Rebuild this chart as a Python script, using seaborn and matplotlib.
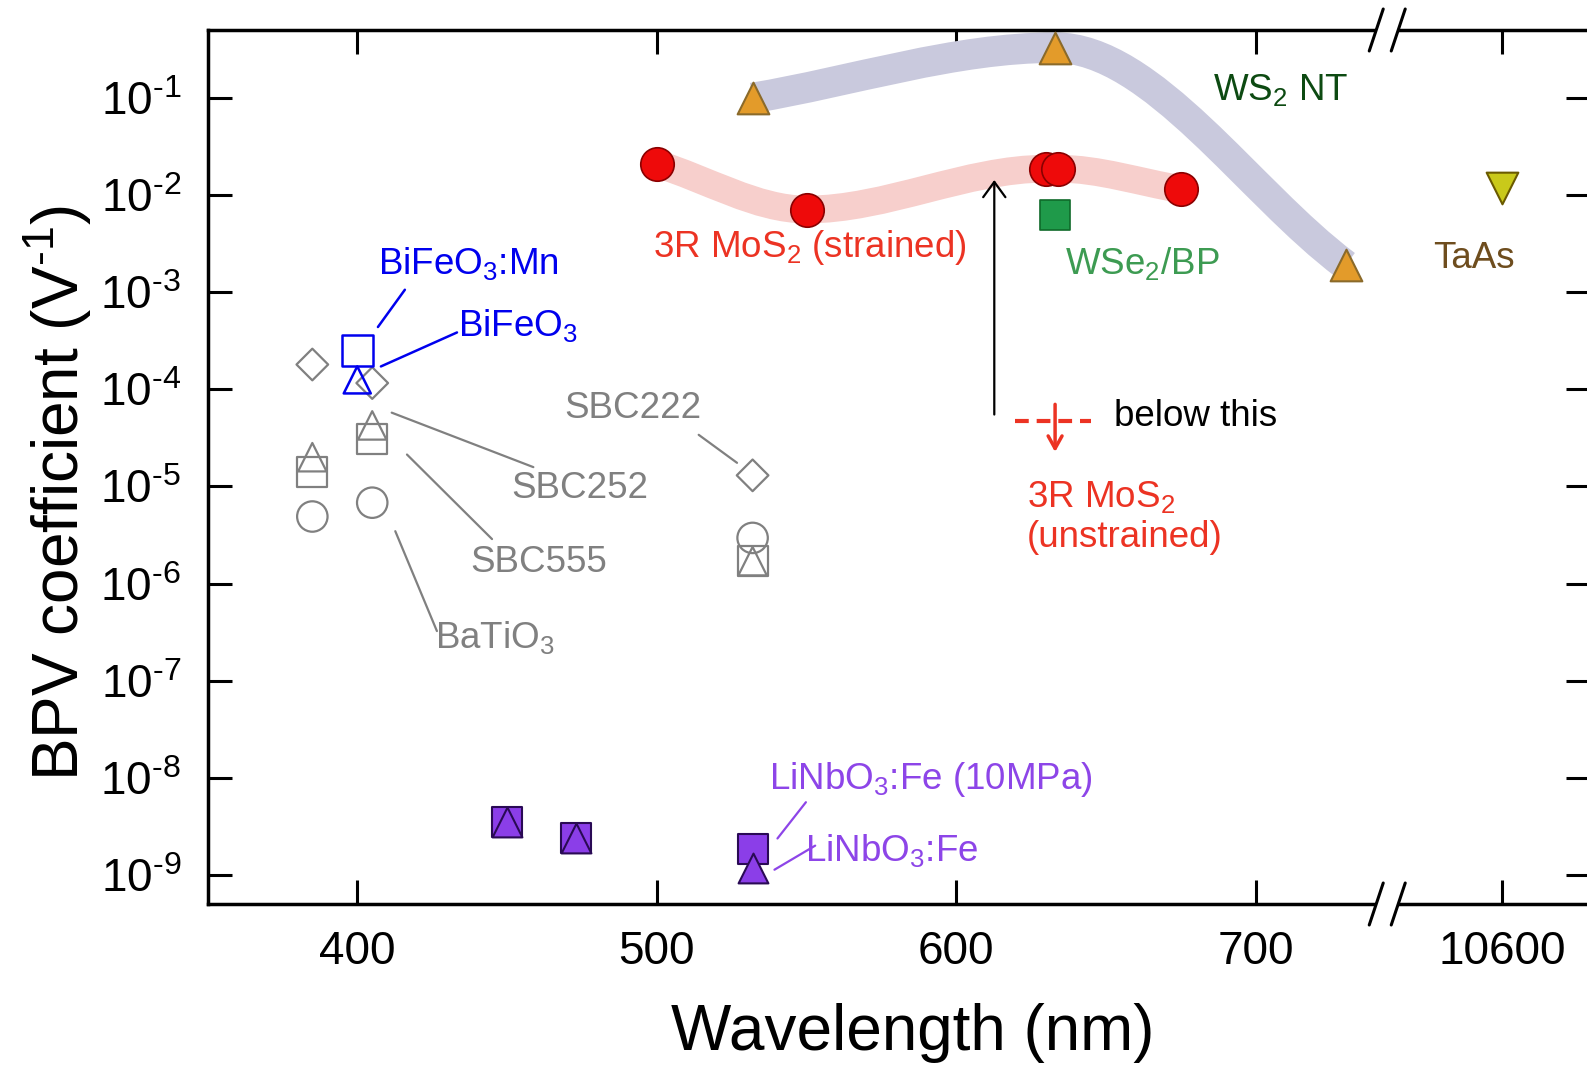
import matplotlib

matplotlib.use("Agg")
import matplotlib.pyplot as plt
import numpy as np
import seaborn as sns
from matplotlib.patches import PathPatch
from matplotlib.path import Path

# ---- data: wavelength (nm), BPV coefficient (1/V) ----
sbc222_wl = [385, 405, 532]
sbc222_bpv = [1.8e-4, 1.16e-4, 1.3e-5]
sbc252_wl = [385, 405, 532]
sbc252_bpv = [2.0e-5, 4.25e-5, 1.7e-6]
sbc555_wl = [385, 405, 532]
sbc555_bpv = [1.4e-5, 3.1e-5, 1.7e-6]
batio3_wl = [385, 405, 532]
batio3_bpv = [4.9e-6, 6.8e-6, 2.95e-6]

bfo_mn_wl = [400]
bfo_mn_bpv = [2.5e-4]
bfo_wl = [400]
bfo_bpv = [1.25e-4]

lno_mpa_wl = [450, 473, 532]
lno_mpa_bpv = [3.5e-9, 2.4e-9, 1.83e-9]
lno_wl = [450, 473, 532]
lno_bpv = [3.5e-9, 2.4e-9, 1.19e-9]

mos2_wl = [500, 550, 630, 634, 675]
mos2_bpv = [0.021, 0.0071, 0.0187, 0.0187, 0.0115]
mos2_unstrained_wl = 633
mos2_unstrained_max = 4.75e-5

ws2_wl = [532, 633, 730]
ws2_bpv = [0.10, 0.33, 0.0019]
wse2_wl = [633]
wse2_bpv = [0.0062]
taas_wl = [10600]
taas_bpv = [0.0118]

x_ticks = [400, 500, 600, 700, 10600]
y_exps = list(range(-9, 0))

GRAY = "#808080"
BLUE = "#0000ee"
PURPLE = "#8d45e8"
RED = "#ec3323"

# broken x axis: linear up to the break, then a short window around 10600 nm
BREAK_LO, BREAK_HI = 743.9, 10561.8
_xs = [0, BREAK_LO, BREAK_HI, 20000]
_ps = [0, BREAK_LO, BREAK_LO + 0.1, BREAK_LO + 0.1 + 20000 - BREAK_HI]


def fwd(x):
    return np.interp(x, _xs, _ps)


def inv(p):
    return np.interp(p, _ps, _xs)


def setup_plot_style():
    sns.set_theme(style="ticks")
    plt.rcParams.update(
        {
            "font.family": ["Liberation Sans", "DejaVu Sans"],
            "mathtext.fontset": "custom",
            "mathtext.rm": "Liberation Sans",
            "mathtext.it": "Liberation Sans:italic",
            "mathtext.bf": "Liberation Sans:bold",
            "mathtext.sf": "Liberation Sans",
            "mathtext.default": "regular",
            "axes.edgecolor": "black",
            "axes.labelcolor": "black",
            "text.color": "black",
            "axes.linewidth": 2.5,
            "xtick.color": "black",
            "ytick.color": "black",
        }
    )


def pts(ax, x, y, marker, size, fc, ec, lw, z=3):
    sns.scatterplot(x=x, y=y, marker=marker, s=size, facecolor=fc, edgecolor=ec,
                    linewidth=lw, ax=ax, zorder=z, legend=False)


def smooth_band(ax, wl, bpv, color, lw):
    # guide-to-the-eye band: cubic Bezier through the points in log space
    x = np.asarray(wl, float)
    ly = np.log10(bpv)
    sec = np.diff(ly) / np.diff(x)
    d = np.empty_like(x)
    d[0], d[-1] = sec[0], sec[-1]
    for i in range(1, len(x) - 1):
        d[i] = 0.0 if sec[i - 1] * sec[i] <= 0 else 2 / (1 / sec[i - 1] + 1 / sec[i])
    verts = [(x[0], ly[0])]
    codes = [Path.MOVETO]
    for i in range(len(x) - 1):
        h = x[i + 1] - x[i]
        verts += [(x[i] + h / 3, ly[i] + d[i] * h / 3),
                  (x[i + 1] - h / 3, ly[i + 1] - d[i + 1] * h / 3),
                  (x[i + 1], ly[i + 1])]
        codes += [Path.CURVE4] * 3
    verts = [(vx, 10 ** vy) for vx, vy in verts]
    ax.add_patch(PathPatch(Path(verts, codes), fill=False, ec=color, lw=lw,
                           capstyle="butt", zorder=1))


setup_plot_style()
W, H = 1587, 1067
ax_l, ax_r, ax_t, ax_b = 207.5, 1590, 30, 904
aw, ah = ax_r - ax_l, ax_b - ax_t
fig = plt.figure(figsize=(W / 100, H / 100), dpi=100)
ax = fig.add_axes([ax_l / W, 1 - ax_b / H, aw / W, ah / H])

# bands
smooth_band(ax, ws2_wl, ws2_bpv, "#c9c9dd", 22)
smooth_band(ax, mos2_wl, mos2_bpv, "#f7cfcc", 20)

# grey ferroelectrics (open markers)
pts(ax, sbc555_wl, sbc555_bpv, "s", 470, "none", GRAY, 1.6)
pts(ax, sbc252_wl, sbc252_bpv, "^", 420, "none", GRAY, 1.6)
pts(ax, sbc222_wl, sbc222_bpv, "D", 260, "none", GRAY, 1.6)
pts(ax, batio3_wl, batio3_bpv, "o", 480, "none", GRAY, 1.6)
# BiFeO3
pts(ax, bfo_mn_wl, bfo_mn_bpv, "s", 500, "none", BLUE, 1.8)
pts(ax, bfo_wl, bfo_bpv, "^", 380, "none", BLUE, 1.8)
# LiNbO3:Fe
pts(ax, lno_mpa_wl, lno_mpa_bpv, "s", 460, "#8b3ee8", "#2a0a55", 1.5)
pts(ax, lno_wl, lno_bpv, "^", 460, "#8b3ee8", "#2a0a55", 1.5, z=4)
# 2D / others
pts(ax, mos2_wl, mos2_bpv, "o", 580, "#ee0a0a", "#8a0000", 1.2, z=4)
pts(ax, wse2_wl, wse2_bpv, "s", 470, "#1f9a4a", "#0f6a2a", 1.2)
pts(ax, ws2_wl, ws2_bpv, "^", 520, "#e39b2a", "#8b6a2a", 1.5, z=4)
pts(ax, taas_wl, taas_bpv, "v", 520, "#c9c91a", "#6a5a00", 1.5)

# upper bound for unstrained 3R MoS2
ax.plot([mos2_unstrained_wl - 13.5, mos2_unstrained_wl + 12], [mos2_unstrained_max] * 2,
        color=RED, lw=3, ls=(0, (3.3, 1.9)), zorder=3)
ax.annotate("", xy=(mos2_unstrained_wl, 2.26e-5), xytext=(mos2_unstrained_wl, 7.0e-5),
            arrowprops=dict(arrowstyle="->,head_length=0.9,head_width=0.5", color=RED,
                            lw=2.5, mutation_scale=10, shrinkA=0, shrinkB=0))
ax.annotate("", xy=(612.7, 0.0143), xytext=(612.7, 5.5e-5),
            arrowprops=dict(arrowstyle="->,head_length=1.1,head_width=0.8", color="black",
                            lw=1.6, mutation_scale=10, shrinkA=0, shrinkB=0))

# scales and limits
ax.set_xscale("function", functions=(fwd, inv))
ax.set_yscale("log")
x_max = inv(811.6)
ax.set_xlim(350, x_max)
ax.set_ylim(10 ** -9.3, 10 ** -0.3)
ax.set_xticks(x_ticks)
ax.set_xticklabels([str(t) for t in x_ticks])
ax.set_yticks([10.0 ** e for e in y_exps])
ax.set_yticklabels([f"10$^{{\\text{{{e}}}}}$" for e in y_exps])
ax.yaxis.set_minor_locator(matplotlib.ticker.NullLocator())
ax.xaxis.set_minor_locator(matplotlib.ticker.NullLocator())
ax.tick_params(axis="both", which="major", direction="in", length=17, width=2.2,
               top=True, right=True, labelsize=33)
ax.tick_params(axis="y", pad=19)
ax.tick_params(axis="x", pad=19)

ax.set_xlabel("Wavelength (nm)", fontsize=46)
ax.set_ylabel("BPV coefficient (V$^{\\text{-1}}$)", fontsize=46)
ax.xaxis.set_label_coords((913 - ax_l) / aw, -(1003 - ax_b) / ah)
ax.yaxis.set_label_coords((94 - ax_l) / aw, 1 - (493 - ax_t) / ah)

# labels and leader lines
tk = dict(fontsize=26.5, ha="left", va="center")
ax.text(406.8, 1.96e-3, "BiFeO$_3$:Mn", color=BLUE, **tk)
ax.text(433.5, 4.5e-4, "BiFeO$_3$", color=BLUE, **tk)
ax.plot([415.9, 406.9], [1.06e-3, 4.38e-4], color=BLUE, lw=1.8)
ax.plot([433.3, 407.9], [3.85e-4, 1.72e-4], color=BLUE, lw=1.8)

ax.text(469.0, 6.3e-5, "SBC222", color=GRAY, **tk)
ax.plot([514.0, 526.8], [3.4e-5, 1.75e-5], color=GRAY, lw=1.6)
ax.text(451.4, 9.5e-6, "SBC252", color=GRAY, **tk)
ax.plot([411.5, 458.8], [5.75e-5, 1.58e-5], color=GRAY, lw=1.6)
ax.text(437.9, 1.66e-6, "SBC555", color=GRAY, **tk)
ax.plot([416.6, 445.0], [2.13e-5, 2.87e-6], color=GRAY, lw=1.6)
ax.text(426.0, 2.8e-7, "BaTiO$_3$", color=GRAY, **tk)
ax.plot([412.7, 426.6], [3.46e-6, 3.24e-7], color=GRAY, lw=1.6)

ax.text(537.6, 9.5e-9, "LiNbO$_3$:Fe (10MPa)", color=PURPLE, **tk)
ax.plot([549.8, 540.3], [5.6e-9, 2.37e-9], color=PURPLE, lw=1.6)
ax.text(549.5, 1.78e-9, "LiNbO$_3$:Fe", color=PURPLE, **tk)
ax.plot([552.9, 539.3], [2.0e-9, 1.13e-9], color=PURPLE, lw=1.6)

ax.text(498.7, 2.87e-3, "3R MoS$_2$ (strained)", color=RED, **tk)
ax.text(636.4, 1.96e-3, "WSe$_2$/BP", color="#3d9b52", **tk)
ax.text(685.8, 0.121, "WS$_2$ NT", color="#0d4a12", **tk)
ax.text(10577, 2.21e-3, "TaAs", color="#6e4d1e", **tk)
ax.text(652.6, 5.2e-5, "below this", color="black", **tk)
ax.text(623.5, 7.7e-6, "3R MoS$_2$", color=RED, **tk)
ax.text(623.5, 3.0e-6, "(unstrained)", color=RED, **tk)

# axis break marks
bx = (fwd(BREAK_LO) - 350) / (811.6 - 350)
for yb in (0, 1):
    ax.plot([bx - 11 / aw, bx + 11 / aw], [yb, yb], transform=ax.transAxes, color="white",
            lw=6, clip_on=False, zorder=5, solid_capstyle="butt")
    for off in (-11, 11):
        ax.plot([bx + (off - 7) / aw, bx + (off + 7) / aw], [yb - 21 / ah, yb + 21 / ah],
                transform=ax.transAxes, color="black", lw=2.2, clip_on=False, zorder=6)

fig.savefig("out.png", dpi=100)
plt.close(fig)
